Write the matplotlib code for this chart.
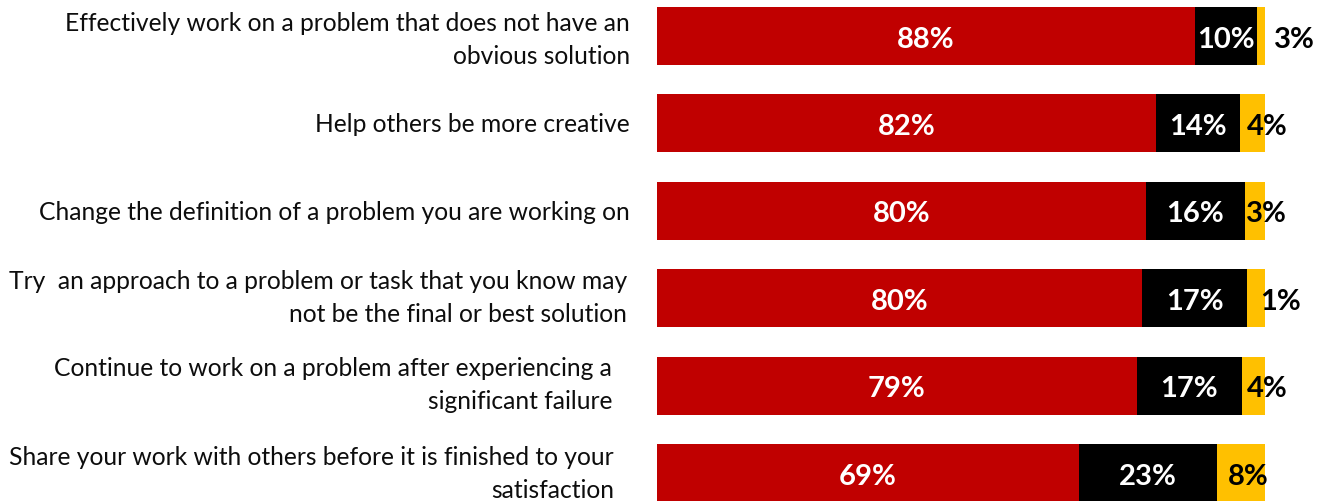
import matplotlib
matplotlib.use("Agg")
import matplotlib.pyplot as plt

categories = [
    "Effectively work on a problem that does not have an\nobvious solution",
    "Help others be more creative",
    "Change the definition of a problem you are working on",
    "Try  an approach to a problem or task that you know may\nnot be the final or best solution",
    "Continue to work on a problem after experiencing a\nsignificant failure",
    "Share your work with others before it is finished to your\nsatisfaction",
]
# segment widths as drawn (share of 100)
red_vals = [88.5, 82.1, 80.4, 79.8, 78.9, 69.4]
black_vals = [10.2, 13.8, 16.3, 17.3, 17.3, 22.7]
gold_vals = [1.3, 4.1, 3.3, 2.9, 3.8, 7.9]
# printed labels
red_labels = ["88%", "82%", "80%", "80%", "79%", "69%"]
black_labels = ["10%", "14%", "16%", "17%", "17%", "23%"]
gold_labels = ["3%", "4%", "3%", "1%", "4%", "8%"]

# layout helpers (not data)
gold_label_x = [104.8, 100.3, 100.3, 102.6, 100.3, 97.3]
cat_right_px = [630, 630, 630, 627, 612, 614]
cat_center_px = [40, 125, 213, 298, 385, 474]

RED = "#C00000"
BLACK = "#000000"
GOLD = "#FFC000"

W, H = 1323, 502
fig = plt.figure(figsize=(W / 100, H / 100), dpi=100)
ax_left, ax_right = 657 / W, 1265 / W
ax = fig.add_axes([ax_left, 0, ax_right - ax_left, 1])

y = list(range(len(categories)))
bh = 58 / 87.5
ax.barh(y, red_vals, height=bh, color=RED, linewidth=0)
left2 = red_vals
ax.barh(y, black_vals, left=left2, height=bh, color=BLACK, linewidth=0)
left3 = [r + b for r, b in zip(red_vals, black_vals)]
ax.barh(y, gold_vals, left=left3, height=bh, color=GOLD, linewidth=0)

ax.set_xlim(0, 100)
ax.set_ylim(5 + 28 / 87.5, -37 / 87.5)
ax.axis("off")

fam = ["Lato", "DejaVu Sans"]
lblsize = 21
for i in y:
    ax.text(red_vals[i] / 2, i + 0.03, red_labels[i], ha="center", va="center",
            color="white", fontsize=lblsize, fontweight="bold", family=fam)
    ax.text(red_vals[i] + black_vals[i] / 2, i + 0.03, black_labels[i], ha="center",
            va="center", color="white", fontsize=lblsize, fontweight="bold", family=fam)
    ax.text(gold_label_x[i], i + 0.03, gold_labels[i], ha="center", va="center",
            color="black", fontsize=lblsize, fontweight="bold", family=fam,
            clip_on=False)

# category labels
for i, cat in enumerate(categories):
    ypix = cat_center_px[i]
    fig.text(cat_right_px[i] / W, 1 - ypix / H, cat, ha="right", va="center",
             multialignment="right", fontsize=17.7, family=fam,
             color="#0d0d0d", linespacing=1.55)

fig.savefig("out.png", dpi=100)
